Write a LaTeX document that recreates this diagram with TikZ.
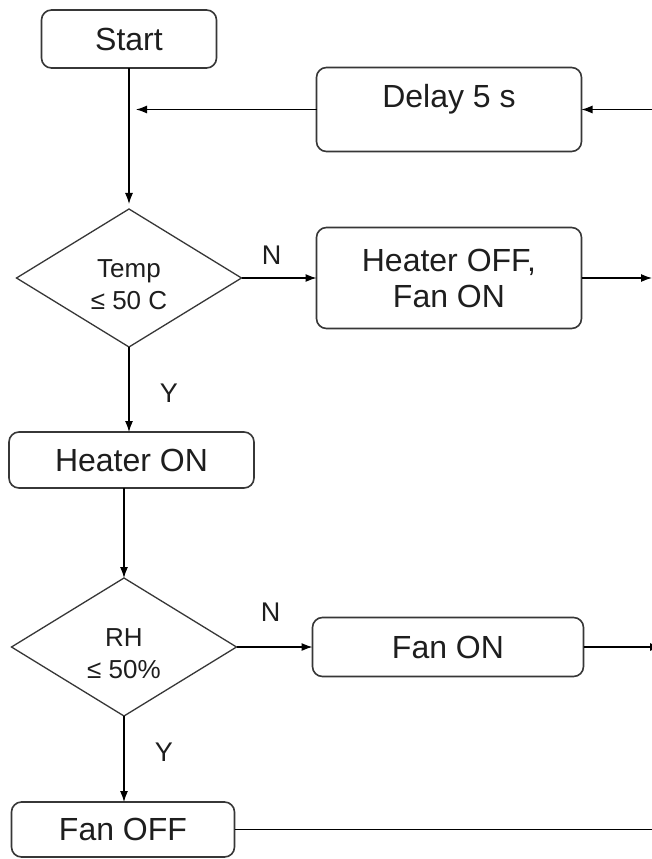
\documentclass[tikz,border=0pt]{standalone}
\usepackage{fontspec}
\setmainfont{Liberation Sans}
\usepackage{tikz}
\usetikzlibrary{positioning,shapes.geometric,arrows.meta}
\definecolor{EdgeGray}{RGB}{55,55,55}
\definecolor{InkDark}{RGB}{30,30,30}

\begin{document}
\begin{tikzpicture}[
  x=1pt, y=1pt,
  stepbox/.style={rectangle, draw=EdgeGray, fill=white, line width=1.6pt, rounded corners=10pt, inner sep=0pt, outer sep=0pt, align=center, font=\fontsize{32}{36}\selectfont, text=InkDark},
  test/.style={diamond, aspect=1.6, draw=EdgeGray, fill=white, line width=1.3pt, minimum width=225pt, minimum height=138pt, inner sep=0pt, outer sep=0pt, align=center, font=\fontsize{26}{32}\selectfont, text height=62pt, text depth=0pt, text=InkDark},
  branch/.style={font=\fontsize{27}{30}\selectfont, text=InkDark},
  arrow/.style={-{Latex[length=11pt,width=8pt]}, line width=1.2pt, draw=black},
  line/.style={line width=1.2pt, draw=black}
]
  \path[fill=white, use as bounding box] (0,0) rectangle (652,-859);

  % Nodes
  \node[stepbox, minimum width=175pt, minimum height=58pt] (start) at (129,-39) {Start};
  \node[test, below=141pt of start] (temp) {Temp\\≤ 50 C};
  \node[stepbox, minimum width=265pt, minimum height=101pt, right=75pt of temp] (heatoff) {Heater OFF,\\Fan ON};
  \node[stepbox, minimum width=265pt, minimum height=84pt, text depth=27pt, above=76pt of heatoff] (delay) {Delay 5 s};
  \node[stepbox, minimum width=245pt, minimum height=56pt, below=85pt of temp, xshift=2.5pt] (heaton) {Heater ON};
  \node[test, below=90pt of heaton, xshift=-7.5pt] (rh) {RH\\≤ 50\%};
  \node[stepbox, minimum width=271pt, minimum height=59pt, right=76pt of rh] (fanon) {Fan ON};
  \node[stepbox, minimum width=223pt, minimum height=55pt, below=86pt of rh, xshift=-1pt] (fanoff) {Fan OFF};

  % Free ends at the right margin
  \coordinate (edge) at (652,0);
  \coordinate (edgeout) at (661,0);
  \coordinate (loopin) at (delay.east -| edge);
  \coordinate (heatout) at (heatoff.east -| edge);
  \coordinate (fanout) at (fanon.east -| edgeout);
  \coordinate (fanoffout) at (fanoff.east -| edge);
  \coordinate[xshift=7pt] (merge) at (start.south |- delay.west);

  % Lines / Arrows
  \draw[arrow] (loopin) -- (delay);
  \draw[arrow] (delay) -- (merge);
  \draw[arrow, shorten >=5pt] (start) -- (temp);
  \draw[arrow] (temp) -- node[branch, above=10pt, pos=0.4] (tempno) {N} (heatoff);
  \draw[arrow] (heatoff) -- (heatout);
  \draw[arrow] (temp.south) -- node[branch, right=27pt, pos=0.54] (tempyes) {Y} (temp.south |- heaton.north);
  \draw[arrow] (heaton.south -| rh.north) -- (rh.north);
  \draw[arrow] (rh) -- node[branch, above=22pt, pos=0.45] (rhno) {N} (fanon);
  \draw[arrow] (fanon) -- (fanout);
  \draw[arrow] (rh.south) -- node[branch, right=27pt, pos=0.42] (rhyes) {Y} (rh.south |- fanoff.north);
  \draw[line] (fanoff) -- (fanoffout);
\end{tikzpicture}
\end{document}
